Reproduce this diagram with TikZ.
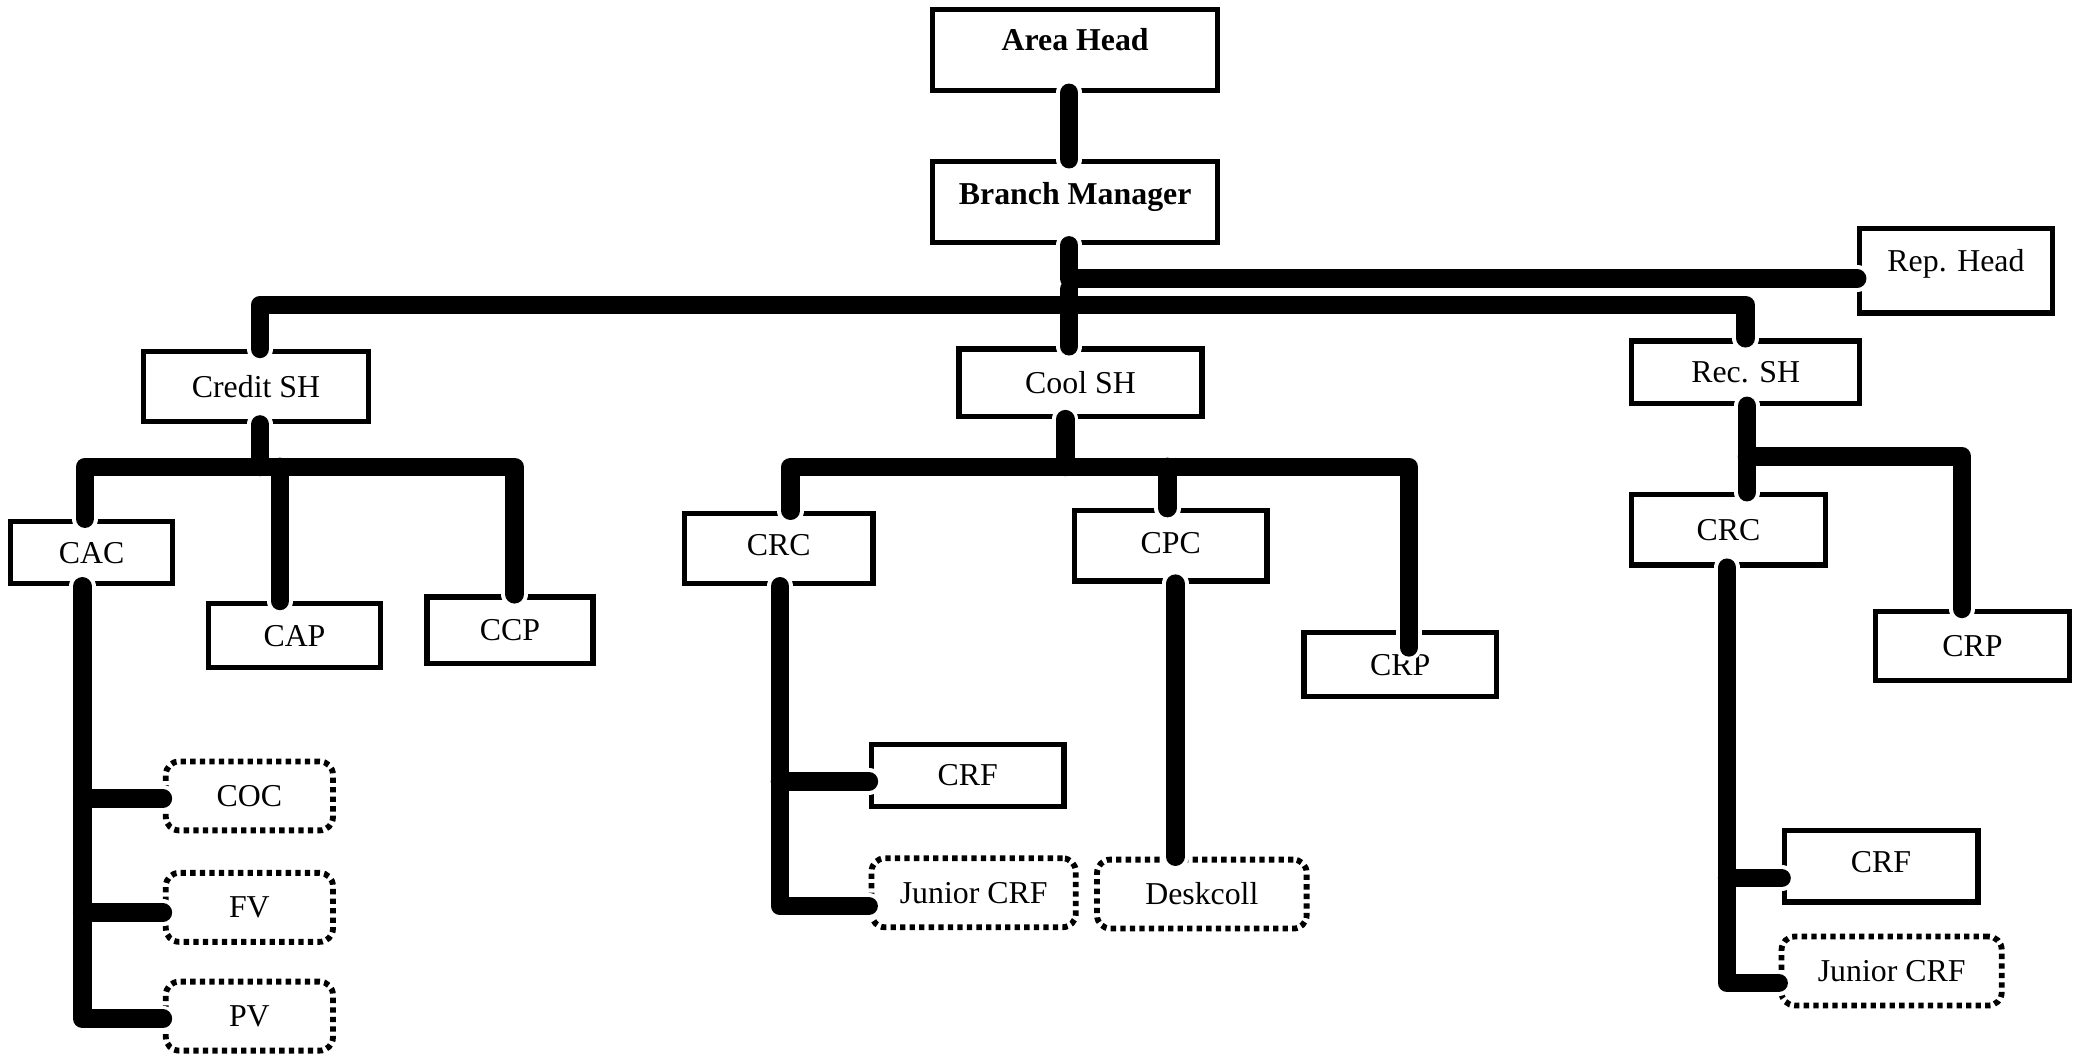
\documentclass[tikz,border=0pt]{standalone}
\usepackage{fontspec}
\setmainfont{Liberation Serif}
\usetikzlibrary{calc}
\tikzset{
  orgbox/.style={draw, line width=2pt, inner sep=0pt, text height=8pt, text depth=0pt,
                 font=\fontsize{12}{14}\selectfont},
  boldbox/.style={orgbox, font=\fontsize{12}{14}\selectfont\bfseries},
  dotbox/.style={orgbox, rounded corners=5pt, line cap=butt, line width=2.2pt, dash pattern=on 2pt off 1.6pt},
  conn/.style={line width=7pt, line cap=round, line join=round, black},
  halo/.style={line width=10pt, line cap=round, line join=round, white},
}
\newcommand\orgconns[1]{%
  \draw[#1] (806,0 |- ah.south) -- (806,0 |- bm.north);
  \draw[#1] (806,0 |- bm.south) -- (806,210) -- (rep.west |- 0,210);
  \draw[#1] (806,218) -- (806,0 |- cool.north);
  \draw[#1] (196,0 |- csh.north) -- (196,230) -- (1316,230) -- (1316,0 |- rec.north);
  % Credit SH branch
  \draw[#1] (196,0 |- csh.south) -- (196,352);
  \draw[#1] (64,0 |- cac.north) -- (64,352) -- (388,352) -- (388,0 |- ccp.north);
  \draw[#1] (211,352) -- (211,0 |- cap.north);
  \draw[#1] (62,0 |- cac.south) -- (62,768) -- (pv.west |- 0,768);
  \draw[#1] (62,602) -- (coc.west |- 0,602);
  \draw[#1] (62,688) -- (fv.west |- 0,688);
  % Cool SH branch
  \draw[#1] (803,0 |- cool.south) -- (803,352);
  \draw[#1] (596,0 |- crc1.north) -- (596,352) -- (1062,352) -- ($(1062,0 |- crp1.north)+(0,13)$);
  \draw[#1] (880,352) -- (880,0 |- cpc.north);
  \draw[#1] (588,0 |- crc1.south) -- (588,683) -- (jcrf1.west |- 0,683);
  \draw[#1] (588,589) -- (crf1.west |- 0,589);
  \draw[#1] (886,0 |- cpc.south) -- (886,0 |- desk.north);
  % Rec SH branch
  \draw[#1] (1317,0 |- rec.south) -- (1317,0 |- crc2.north);
  \draw[#1] (1317,344) -- (1479,344) -- (1479,0 |- crp2.north);
  \draw[#1] (1302,0 |- crc2.south) -- (1302,741) -- (jcrf2.west |- 0,741);
  \draw[#1] (1302,662) -- (crf2.west |- 0,662);
}
\begin{document}
\begin{tikzpicture}[x=0.5pt, y=-0.5pt]
  \useasboundingbox[fill=white] (0,0) rectangle (1568,795);
  % top
  \node[boldbox, minimum width=107.5pt, minimum height=30.5pt, text depth=7.5pt] (ah) at (810.5,37.5) {Area Head};
  \node[boldbox, minimum width=107.5pt, minimum height=30.5pt, text depth=6.5pt] (bm) at (810.5,152.5) {Branch Manager};
  \node[orgbox, minimum width=72.5pt, minimum height=32pt, text depth=7pt] (rep) at (1474.5,204) {Rep. Head};
  % section heads
  \node[orgbox, minimum width=85pt, minimum height=26.5pt] (csh) at (193,291.5) {Credit SH};
  \node[orgbox, minimum width=91.5pt, minimum height=25.5pt] (cool) at (814.5,288.5) {Cool SH};
  \node[orgbox, minimum width=86pt, minimum height=23.5pt] (rec) at (1316,280.5) {Rec. SH};
  % credit
  \node[orgbox, minimum width=61pt, minimum height=23.5pt] (cac) at (69,416.5) {CAC};
  \node[orgbox, minimum width=65pt, minimum height=24pt] (cap) at (222,479) {CAP};
  \node[orgbox, minimum width=62.5pt, minimum height=25pt] (ccp) at (384.5,475) {CCP};
  \node[dotbox, minimum width=63pt, minimum height=26pt] (coc) at (188,600) {COC};
  \node[dotbox, minimum width=63pt, minimum height=26pt] (fv) at (188,684) {FV};
  \node[dotbox, minimum width=63pt, minimum height=26pt] (pv) at (188,766) {PV};
  % cool
  \node[orgbox, minimum width=71pt, minimum height=26.5pt, text depth=2.5pt] (crc1) at (587,413.5) {CRC};
  \node[orgbox, minimum width=72.5pt, minimum height=26.5pt, text depth=2.5pt] (cpc) at (882.5,411.5) {CPC};
  \node[orgbox, minimum width=72.5pt, minimum height=24pt] (crp1) at (1055.5,501) {CRP};
  \node[orgbox, minimum width=72.5pt, minimum height=23.5pt] (crf1) at (729.5,584.5) {CRF};
  \node[dotbox, minimum width=77pt, minimum height=26pt] (jcrf1) at (734,673) {Junior CRF};
  \node[dotbox, minimum width=79pt, minimum height=26pt] (desk) at (906,674) {Deskcoll};
  % rec
  \node[orgbox, minimum width=73pt, minimum height=26.5pt] (crc2) at (1303,399.5) {CRC};
  \node[orgbox, minimum width=73pt, minimum height=26pt] (crp2) at (1487,487) {CRP};
  \node[orgbox, minimum width=73pt, minimum height=27pt, text depth=3pt] (crf2) at (1418,653) {CRF};
  \node[dotbox, minimum width=83pt, minimum height=26pt] (jcrf2) at (1426,732) {Junior CRF};
  % connectors: white halo pass, then black pass
  \orgconns{halo}
  \orgconns{conn}
\end{tikzpicture}
\end{document}
